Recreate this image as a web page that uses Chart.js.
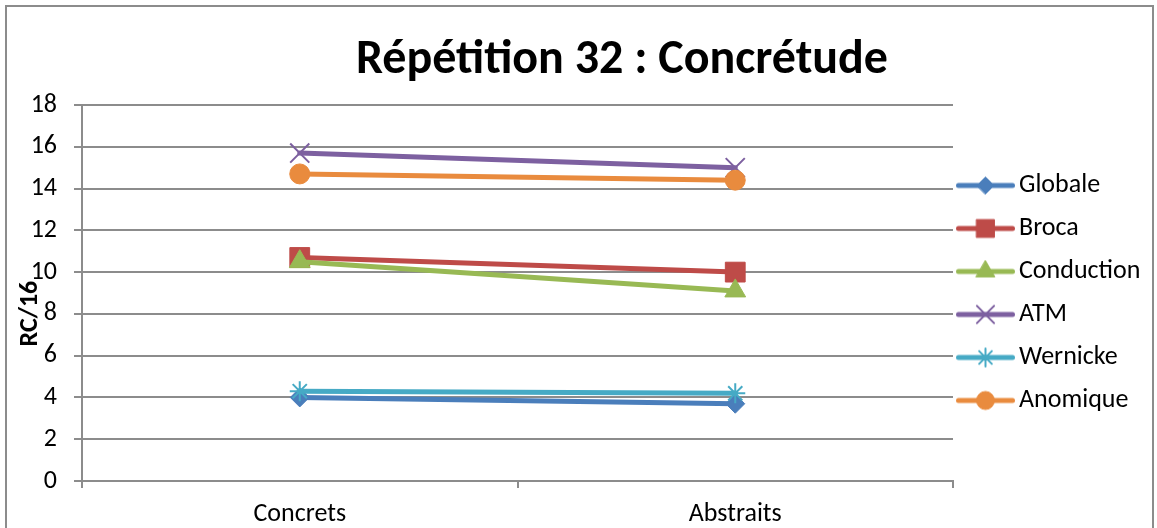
<!DOCTYPE html>
<html>
<head>
<meta charset="utf-8">
<script src="https://cdn.jsdelivr.net/npm/chart.js@4.4.1/dist/chart.umd.min.js"></script>
<style>
html,body{margin:0;padding:0;background:#fff;overflow:hidden}
#wrap{position:relative;width:1157px;height:528px}
#frame{position:absolute;left:5px;top:5px;width:1145px;height:600px;border:2px solid #8c8c8c;border-bottom:none;pointer-events:none}
#ttl{position:absolute;left:272px;width:700px;top:27px;text-align:center;font:bold 48px Carlito,Lato,'Open Sans',sans-serif;color:#000;line-height:60px;white-space:nowrap}
#c{position:absolute;left:0;top:0}
</style>
</head>
<body>
<div id="wrap">
  <canvas id="c" width="1157" height="528"></canvas>
  <div id="frame"></div>
  <div id="ttl">Répétition 32 : Concrétude</div>
</div>
<script>
// données
const categories=['Concrets','Abstraits'];
const globale=[4.0,3.7];
const broca=[10.7,10.0];
const conduction=[10.5,9.1];
const atm=[15.7,15.0];
const wernicke=[4.3,4.2];
const anomique=[14.7,14.4];
const yTicks=[0,2,4,6,8,10,12,14,16,18];

const FONT="Carlito, Lato, 'Open Sans', sans-serif";
const GRID='#8c8c8c';
const FS=26;

const series=[
  {label:'Globale',data:globale,color:'#4a7ebb',style:'rectRot',r:9.5,bw:1},
  {label:'Broca',data:broca,color:'#be4b48',style:'rect',r:14,bw:1},
  {label:'Conduction',data:conduction,color:'#98b954',style:'triangle',r:12,bw:1},
  {label:'ATM',data:atm,color:'#7d60a0',style:'crossRot',r:13.5,bw:2},
  {label:'Wernicke',data:wernicke,color:'#46aac5',style:'star',r:10,bw:2},
  {label:'Anomique',data:anomique,color:'#e98b3e',style:'circle',r:10,bw:1}
];

// petite icone ligne + marqueur pour la légende
function icon(s){
  const c=document.createElement('canvas');c.width=70;c.height=24;
  const x=c.getContext('2d');
  x.strokeStyle=s.color;x.fillStyle=s.color;x.lineWidth=5;x.lineCap='round';
  x.beginPath();x.moveTo(5.5,12);x.lineTo(59.5,12);x.stroke();
  x.lineWidth=s.bw;
  Chart.helpers.drawPoint(x,{pointStyle:s.style,radius:s.r*0.9,borderWidth:s.bw,rotation:0},32.5,12);
  return c;
}

// largeur de légende -> marge droite pour caler la zone de tracé à x=953
const LEG_PAD=17,BOXW=36;
const mc=document.createElement('canvas').getContext('2d');
mc.font=FS+'px '+FONT;
const maxTxt=Math.max(...series.map(s=>mc.measureText(s.label).width));
const legW=LEG_PAD+BOXW+FS/2+maxTxt+10;
const padRight=Math.max(0,1157-953-legW);

new Chart(document.getElementById('c'),{
  type:'line',
  data:{labels:categories,datasets:series.map((s,i)=>({
    label:s.label,data:s.data,
    borderColor:s.color,backgroundColor:s.color,borderWidth:5,borderCapStyle:'round',
    pointStyle:s.style,pointRadius:s.r,pointBorderWidth:s.bw,
    pointBackgroundColor:s.color,pointBorderColor:s.color,pointHoverRadius:s.r,
    tension:0,order:series.length-i
  }))},
  options:{
    responsive:false,animation:false,
    layout:{padding:{left:6,top:105,bottom:0,right:padRight}},
    plugins:{
      title:{display:false},tooltip:{enabled:false},
      legend:{
        position:'right',fullSize:false,
        labels:{
          usePointStyle:true,pointStyleWidth:BOXW,padding:LEG_PAD,color:'#000',
          font:{family:FONT,size:FS},
          sort:(a,b)=>a.datasetIndex-b.datasetIndex,
          generateLabels:ch=>series.map((s,i)=>({text:s.label,pointStyle:icon(s),datasetIndex:i,fontColor:'#000',lineWidth:0,hidden:false}))
        }
      }
    },
    scales:{
      x:{
        offset:true,
        afterFit:sc=>{sc.height=47},
        grid:{offset:true,drawOnChartArea:false,drawTicks:true,tickLength:7,color:GRID,lineWidth:2},
        border:{color:GRID,width:2},
        ticks:{color:'#000',font:{family:FONT,size:FS},padding:11,maxRotation:0}
      },
      y:{
        min:0,max:18,
        afterBuildTicks:sc=>{sc.ticks=yTicks.map(v=>({value:v}))},
        afterFit:sc=>{sc.width=82-6},
        grid:{color:GRID,lineWidth:2,tickLength:8},
        border:{color:GRID,width:2},
        ticks:{color:'#000',font:{family:FONT,size:FS},padding:17},
        title:{display:true,text:'RC/16       ',color:'#000',font:{family:FONT,size:FS,weight:'bold'},padding:{top:9,bottom:0}}
      }
    }
  }
});
</script>
</body>
</html>
